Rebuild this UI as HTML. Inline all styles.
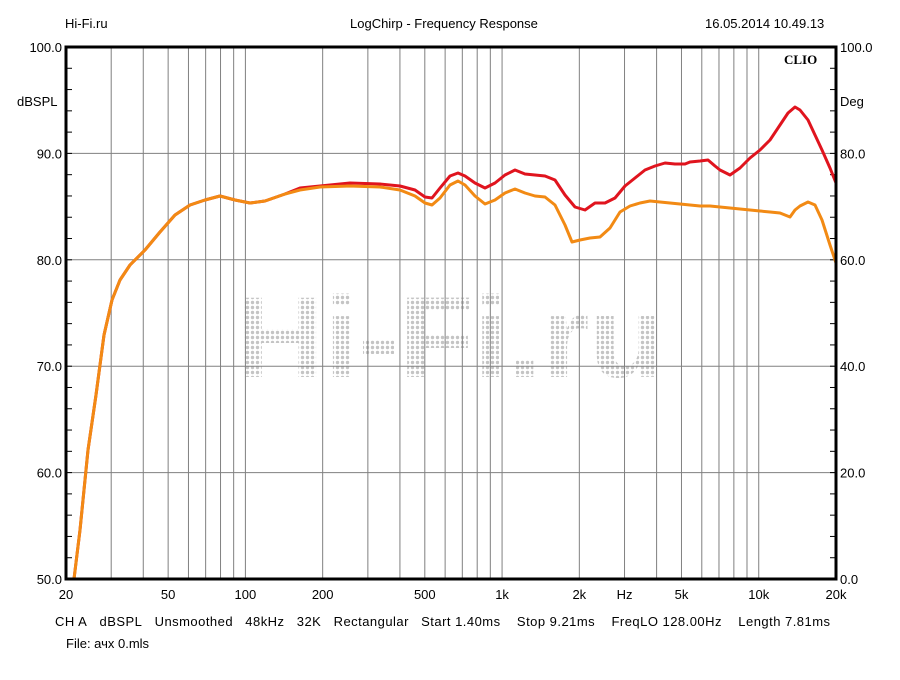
<!DOCTYPE html>
<html><head><meta charset="utf-8"><style>
body{margin:0;background:#fff;width:900px;height:675px;overflow:hidden;font-family:"Liberation Sans",sans-serif}
svg text{font-family:"Liberation Sans",sans-serif;font-size:13px;fill:#000}
</style></head><body>
<svg id="s" width="900" height="675" xmlns="http://www.w3.org/2000/svg">
<defs><pattern id="dots" width="5" height="5" patternUnits="userSpaceOnUse"><circle cx="2.5" cy="2.5" r="1.7" fill="#c4c4c4"/></pattern></defs>
<text x="236" y="377" style="font-family:'Liberation Sans',sans-serif;font-size:115px;font-weight:bold;fill:url(#dots)" textLength="428" lengthAdjust="spacingAndGlyphs">Hi-Fi.ru</text>
<g id="grid"></g>
<polyline id="rd" fill="none" stroke="#e0141e" stroke-width="3" stroke-linejoin="round"/>
<polyline id="or" fill="none" stroke="#f28a14" stroke-width="3" stroke-linejoin="round"/>
<rect x="66" y="47" width="770" height="532" fill="none" stroke="#000" stroke-width="3"/>
<text x="65" y="28">Hi-Fi.ru</text>
<text x="350" y="28">LogChirp - Frequency Response</text>
<text x="705" y="28">16.05.2014 10.49.13</text>
<text x="784" y="64" style="font-family:'Liberation Serif',serif;font-weight:bold;font-size:13px">CLIO</text>
<text x="17" y="106">dBSPL</text>
<text x="840" y="106">Deg</text>
<text x="55" y="626" textLength="775" lengthAdjust="spacing">CH A&#160;&#160;&#160;dBSPL&#160;&#160;&#160;Unsmoothed&#160;&#160;&#160;48kHz&#160;&#160;&#160;32K&#160;&#160;&#160;Rectangular&#160;&#160;&#160;Start 1.40ms&#160;&#160;&#160;&#160;Stop 9.21ms&#160;&#160;&#160;&#160;FreqLO 128.00Hz&#160;&#160;&#160;&#160;Length 7.81ms</text>
<text x="66" y="648">File: ачх 0.mls</text>
</svg>
<script>
var g=document.getElementById('grid'),h='';
function X(f){return 66+Math.log10(f/20)*770/3}
var fs=[];for(var d=10;d<=10000;d*=10)for(var k=1;k<10;k++){var f=k*d;if(f>20&&f<20000)fs.push(f)}
fs.forEach(function(f){var x=X(f);h+='<line x1="'+x+'" y1="47" x2="'+x+'" y2="579" stroke="#808080" stroke-width="1"/>'});
for(var i=1;i<5;i++){var y=47+i*106.4;h+='<line x1="66" y1="'+y+'" x2="836" y2="'+y+'" stroke="#808080"/>'}
for(var i=1;i<25;i++){var y=47+i*21.28;h+='<line x1="66" y1="'+y+'" x2="72" y2="'+y+'" stroke="#000"/><line x1="830" y1="'+y+'" x2="836" y2="'+y+'" stroke="#000"/>'}
var L=['100.0','90.0','80.0','70.0','60.0','50.0'],R=['100.0','80.0','60.0','40.0','20.0','0.0'];
for(var i=0;i<6;i++){var y=47+i*106.4+5;h+='<text x="62" y="'+y+'" text-anchor="end">'+L[i]+'</text><text x="840" y="'+y+'">'+R[i]+'</text>'}
var xl=[[20,'20'],[50,'50'],[100,'100'],[200,'200'],[500,'500'],[1000,'1k'],[2000,'2k'],[3000,'Hz'],[5000,'5k'],[10000,'10k'],[20000,'20k']];
xl.forEach(function(a){h+='<text x="'+X(a[0])+'" y="599" text-anchor="middle">'+a[1]+'</text>'});
g.innerHTML=h;
var base=[74,579,80,530,88,450,96,395,104,335,112,300,120,280,130,265,145,250,160,232,175,215,190,205,205,200,220,196,235,200,250,203,265,201,285,194];
var o=base.concat([300,190,320,187,350,186,380,187,400,190,415,196,425,203,432,205,440,198,450,185,458,181,465,185,475,196,485,204,495,200,505,193,515,189,525,193,535,196,545,197,555,205,565,225,572,242,580,240,590,238,600,237,610,228,620,212,630,206,640,203,650,201,660,202,670,203,680,204,690,205,700,206,710,206,720,207,730,208,740,209,750,210,760,211,770,212,780,213,790,217,795,210,800,206,808,202,815,205,822,220,830,245,836,263]);
var r=base.concat([300,188,350,183,380,184,400,186,415,190,425,197,432,198,440,188,450,176,458,173,465,176,475,183,485,188,495,183,505,175,515,170,525,174,535,175,545,176,555,180,565,195,575,207,585,210,595,203,605,203,615,198,625,186,635,178,645,170,655,166,665,163,675,164,685,164,690,162,700,161,708,160,715,166,720,170,730,175,740,168,750,158,760,150,770,140,780,125,788,113,795,107,800,110,808,120,815,135,822,150,830,168,836,183]);
document.getElementById('or').setAttribute('points',o.join(' '));
document.getElementById('rd').setAttribute('points',r.join(' '));
</script>
</body></html>
